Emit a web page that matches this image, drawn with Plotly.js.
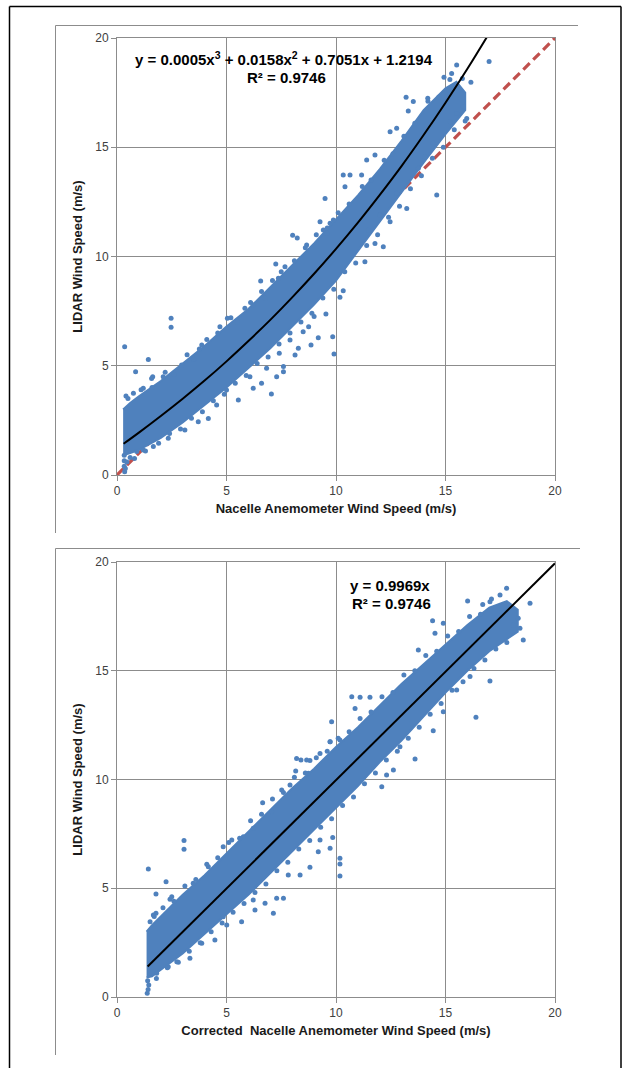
<!DOCTYPE html>
<html>
<head>
<meta charset="utf-8">
<script src="https://cdn.plot.ly/plotly-3.0.1.min.js"></script>
<style>html,body{margin:0;padding:0;background:#fff}#chart{width:624px;height:1068px}</style>
</head>
<body>
<div id="chart"></div>
<script>
// ---------------- DATA ----------------
var axisTicks = [0, 5, 10, 15, 20];

// Top chart: dense core of the cloud (upper / lower edges)
var topUpperX = [0.28, 0.6, 1, 2, 3, 4, 5, 6, 7, 8, 9, 10, 11, 12, 13, 14, 15, 15.5, 15.9];
var topUpperY = [3.0, 3.3, 3.6, 4.3, 5.1, 5.9, 6.8, 7.6, 8.6, 9.6, 10.6, 11.7, 12.8, 14.0, 15.3, 16.7, 17.7, 18.0, 17.5];
var topLowerX = [15.9, 15, 14, 13, 12, 11, 10, 9, 8, 7, 6, 5, 4, 3, 2, 1, 0.6, 0.28];
var topLowerY = [16.7, 15.6, 14.3, 12.95, 11.6, 10.2, 8.9, 7.8, 6.8, 5.8, 4.9, 4.0, 3.2, 2.4, 1.7, 1.15, 1.0, 0.9];

// Top chart: individual scattered points
var topPtsX = [0.35, 2.47, 2.47, 1.43, 0.85, 1.63, 0.41, 6.56, 8.02, 8.23, 7.25, 5.04, 3.76, 7.05, 9.85, 9.91, 8.86, 9.19, 9.54, 10.18, 10.33, 9.0, 8.5, 8.75, 7.9, 8.28, 7.41, 7.6, 6.83, 6.6, 6.07, 5.54, 5.0, 4.55, 4.17, 3.71, 3.1, 2.34, 1.66, 1.2, 0.35, 6.22, 7.29, 7.6, 8.13,
  2.95, 2.11, 1.58, 1.2, 0.75, 3.87, 4.7, 5.84, 6.22, 6.76, 7.37, 7.67, 8.66, 9.42, 9.73,
  16.99, 15.51, 15.28, 14.93, 16.16, 15.77, 13.2, 13.53, 13.3, 14.19, 12.77, 12.47, 11.78, 11.4, 10.33, 10.64, 11.17, 10.41, 9.5, 9.88, 9.27, 9.58, 14.6, 13.23, 12.77, 12.0, 12.47, 11.48, 11.32, 12.16, 11.78, 14.44, 14.06, 13.76, 15.51, 15.81, 15.97, 15.2,
  0.33, 0.33, 0.33, 0.38, 0.45, 0.6, 0.8, 0.9,
  0.5, 1.1, 1.6, 2.2, 2.6, 3.2, 3.5, 4.1, 4.6, 5.2, 5.5, 6.1, 6.6, 7.1, 7.5, 8.1, 8.6, 9.1, 9.6, 10.1, 10.6, 11.2, 11.6, 12.2, 12.6, 13.1, 13.6, 14.2, 14.7, 15.2,
  1.3, 1.9, 2.4, 2.9, 3.4, 3.9, 4.4, 4.9, 5.4, 5.9, 6.4, 6.9, 7.4, 7.9, 8.4, 8.9, 9.4, 9.9, 10.4, 10.9, 11.4, 11.9, 12.4, 12.9, 13.4, 13.9, 14.4, 14.9, 15.4, 15.9];
var topPtsY = [5.87, 7.17, 6.76, 5.29, 4.73, 4.5, 3.62, 8.88, 10.97, 10.85, 9.66, 7.17, 5.77, 3.71, 6.33, 5.54, 5.95, 6.28, 7.37, 8.13, 8.43, 7.25, 6.56, 6.79, 6.18, 5.8, 5.57, 4.96, 4.88, 4.2, 4.5, 3.43, 3.89, 3.2, 2.59, 2.44, 2.06, 1.68, 1.3, 1.14, 0.15, 3.97, 4.5, 4.73, 5.49,
  5.03, 4.5, 4.42, 3.97, 3.74, 5.95, 6.79, 7.63, 7.78, 8.09, 9.0, 9.53, 10.53, 11.21, 11.52,
  18.92, 18.76, 18.38, 18.2, 17.97, 18.15, 17.29, 17.09, 16.66, 17.24, 15.87, 15.71, 14.65, 14.42, 13.73, 13.73, 13.73, 13.19, 12.66, 11.67, 11.59, 11.06, 12.81, 12.2, 12.89, 11.9, 11.59, 11.21, 9.76, 10.45, 10.6, 15.18, 14.57, 14.04, 16.55, 16.86, 16.32, 16.17,
  0.4, 0.65, 0.9, 0.3, 0.6, 0.8, 0.75, 1.07,
  3.5, 3.9, 4.0, 4.7, 4.6, 5.5, 5.3, 6.2, 6.5, 7.2, 7.0, 7.9, 8.4, 8.9, 9.3, 9.8, 10.4, 11.0, 11.3, 12.0, 12.4, 13.2, 13.5, 14.4, 14.7, 15.5, 16.1, 17.1, 17.3, 18.1,
  1.1, 1.45, 1.9, 2.1, 2.6, 2.9, 3.4, 3.7, 4.2, 4.55, 5.1, 5.4, 6.0, 6.5, 7.0, 7.4, 8.1, 8.5, 9.3, 9.7, 10.5, 11.0, 11.8, 12.3, 13.1, 13.7, 14.5, 15.0, 15.8, 16.2];

// Top chart: polynomial trend line
var topFitX = [0.3, 1, 2, 3, 4, 5, 6, 7, 8, 9, 10, 11, 12, 13, 14, 15, 16, 16.9];
var topFitY = [1.43, 1.94, 2.70, 3.49, 4.32, 5.20, 6.13, 7.10, 8.13, 9.21, 10.35, 11.55, 12.82, 14.15, 15.56, 17.04, 18.59, 20.06];

// Top chart: 1:1 reference line
var identityX = [0, 20];
var identityY = [0, 20];

// Bottom chart: dense core of the cloud
var botUpperX = [1.35, 1.6, 2, 3, 4, 5, 6, 7, 8, 9, 10, 11, 12, 13, 14, 15, 16, 17, 17.8, 18.3];
var botUpperY = [3.0, 3.3, 3.7, 4.7, 5.6, 6.6, 7.6, 8.6, 9.6, 10.5, 11.5, 12.4, 13.4, 14.4, 15.3, 16.2, 17.1, 17.9, 18.2, 17.8];
var botLowerX = [18.3, 17, 16, 15, 14, 13, 12, 11, 10, 9, 8, 7, 6, 5, 4, 3, 2, 1.6, 1.35];
var botLowerY = [16.8, 15.9, 15.0, 14.0, 12.9, 11.8, 10.8, 9.7, 8.7, 7.7, 6.7, 5.7, 4.7, 3.8, 2.9, 2.0, 1.25, 0.95, 0.9];

// Bottom chart: individual scattered points
var botPtsX = [1.43, 3.06, 3.06, 2.24, 1.78, 2.42, 1.66, 6.65, 8.2, 8.4, 8.16, 8.81, 7.14, 10.18, 10.18, 10.18, 9.73, 9.85, 9.27, 9.19, 8.81, 8.36, 7.82, 7.29, 7.6, 6.76, 6.22, 6.3, 5.69, 5.01, 4.85, 4.47, 3.87, 3.33, 2.73, 2.34, 1.81, 1.38, 1.45, 1.42, 1.4,
  1.51, 1.78, 2.5, 3.48, 4.17, 4.85, 5.24, 5.77, 6.22, 7.06, 7.52, 7.9, 8.74, 9.27, 9.73,
  17.79, 17.49, 18.86, 16.01, 16.7, 17.03, 14.41, 14.9, 14.52, 13.76, 10.72, 11.1, 11.55, 10.87, 9.8, 10.18, 9.73, 8.66, 16.39, 17.03, 14.9, 14.44, 13.61, 12.31, 12.62, 12.09, 12.92, 15.51, 16.12, 18.4, 18.55, 18.1, 18.32,
  1.7, 2.1, 2.6, 3.1, 3.6, 4.1, 4.6, 5.1, 5.6, 6.1, 6.6, 7.1, 7.6, 8.1, 8.6, 9.1, 9.6, 10.1, 10.6, 11.1, 11.6, 12.1, 12.6, 13.1, 13.6, 14.1, 14.6, 15.1, 15.6, 16.1, 16.6, 17.1,
  1.8, 2.3, 2.8, 3.3, 3.8, 4.3, 4.8, 5.3, 5.8, 6.3, 6.8, 7.3, 7.8, 8.3, 8.8, 9.3, 9.8, 10.3, 10.8, 11.3, 11.8, 12.3, 12.8, 13.3, 13.8, 14.3, 14.8, 15.3, 15.8, 16.3, 16.8, 17.3, 17.8];
var botPtsY = [5.89, 7.19, 6.79, 5.3, 4.74, 4.49, 3.77, 8.93, 10.97, 10.9, 10.39, 10.87, 3.85, 6.38, 6.11, 5.56, 6.84, 7.33, 7.22, 6.68, 5.96, 5.61, 5.61, 4.54, 4.54, 4.31, 4.46, 4.0, 3.46, 3.31, 3.69, 2.62, 2.47, 1.78, 1.62, 1.39, 1.09, 0.17, 0.55, 0.35, 0.75,
  3.46, 3.85, 4.61, 5.23, 5.99, 6.91, 7.22, 7.37, 7.76, 8.52, 9.52, 9.75, 10.29, 11.2, 11.74,
  18.79, 18.48, 18.1, 18.21, 18.05, 18.17, 17.3, 17.18, 16.72, 15.95, 13.81, 13.78, 13.78, 13.27, 12.66, 11.82, 11.74, 10.9, 12.86, 14.53, 13.12, 12.24, 10.94, 10.21, 10.44, 9.67, 11.51, 14.11, 14.73, 16.95, 16.41, 17.1, 17.41,
  3.7, 4.1, 4.4, 5.1, 5.4, 6.1, 6.4, 7.1, 7.3, 8.1, 8.4, 9.1, 9.4, 10.1, 10.3, 11.0, 11.3, 11.9, 12.2, 12.8, 13.1, 13.8, 14.0, 14.8, 15.0, 15.7, 15.9, 16.6, 16.8, 17.5, 17.6, 18.3,
  0.85, 1.35, 1.6, 2.1, 2.5, 3.0, 3.4, 3.9, 4.3, 4.8, 5.2, 5.8, 6.2, 6.8, 7.2, 7.8, 8.2, 8.8, 9.2, 9.8, 10.3, 10.9, 11.3, 11.9, 12.4, 13.0, 13.5, 14.1, 14.5, 15.1, 15.5, 16.0, 16.3];

// Bottom chart: linear trend line
var botFitX = [1.4, 20];
var botFitY = [1.40, 19.94];

// Text
var topEquation = 'y = 0.0005x<sup>3</sup> + 0.0158x<sup>2</sup> + 0.7051x + 1.2194';
var botEquation = 'y = 0.9969x';
var rSquared = 'R² = 0.9746';
var topXTitle = 'Nacelle Anemometer Wind Speed (m/s)';
var botXTitle = 'Corrected  Nacelle Anemometer Wind Speed (m/s)';
var yTitle = 'LIDAR Wind Speed (m/s)';

// ---------------- CHART ----------------
var W = 624, H = 1068;
function px(v) { return v / W; }
function py(v) { return 1 - v / H; }

var BLUE = '#4F81BD';
var FONT = 'Liberation Sans, Arial, sans-serif';

function band(ux, uy, lx, ly, xa, ya) {
  return {
    x: ux.concat(lx), y: uy.concat(ly), xaxis: xa, yaxis: ya,
    type: 'scatter', mode: 'lines', fill: 'toself', fillcolor: BLUE,
    line: { color: BLUE, width: 2 }, hoverinfo: 'skip'
  };
}
function pts(x, y, xa, ya) {
  return { x: x, y: y, xaxis: xa, yaxis: ya, type: 'scatter', mode: 'markers',
    marker: { color: BLUE, size: 5, line: { width: 0 } } };
}

var traces = [
  { x: identityX, y: identityY, xaxis: 'x', yaxis: 'y', type: 'scatter', mode: 'lines',
    line: { color: '#C0504D', width: 3.2, dash: '9px,5px' } },
  band(topUpperX, topUpperY, topLowerX, topLowerY, 'x', 'y'),
  pts(topPtsX, topPtsY, 'x', 'y'),
  { x: topFitX, y: topFitY, xaxis: 'x', yaxis: 'y', type: 'scatter', mode: 'lines',
    line: { color: '#000000', width: 2, shape: 'spline' } },
  band(botUpperX, botUpperY, botLowerX, botLowerY, 'x2', 'y2'),
  pts(botPtsX, botPtsY, 'x2', 'y2'),
  { x: botFitX, y: botFitY, xaxis: 'x2', yaxis: 'y2', type: 'scatter', mode: 'lines',
    line: { color: '#000000', width: 2 } }
];

var GRID = '#8c8c8c';
function axis(domain, anchor, title, isY) {
  var a = {
    domain: domain, anchor: anchor, range: [0, 20], tickvals: axisTicks,
    showgrid: true, gridcolor: GRID, gridwidth: 1,
    showline: true, linecolor: GRID, linewidth: 1, mirror: true,
    ticks: 'outside', ticklen: 5, tickcolor: GRID, tickwidth: 1,
    tickfont: { family: FONT, size: 12, color: '#404040' },
    zeroline: false, fixedrange: true, automargin: false
  };
  if (title) a.title = { text: '<b>' + title + '</b>', font: { family: FONT, size: 13, color: '#1a1a1a' }, standoff: isY ? 9 : 6 };
  return a;
}

var xDom = [px(117), px(555)];
var layout = {
  width: W, height: H, margin: { l: 0, r: 0, t: 0, b: 0 },
  paper_bgcolor: '#ffffff', plot_bgcolor: '#ffffff', showlegend: false,
  xaxis: axis(xDom, 'y', topXTitle, false),
  yaxis: axis([py(475), py(38)], 'x', yTitle, true),
  xaxis2: axis(xDom, 'y2', botXTitle, false),
  yaxis2: axis([py(997), py(562)], 'x2', yTitle, true),
  annotations: [
    { xref: 'paper', yref: 'paper', x: px(284), y: py(58), text: '<b>' + topEquation + '</b>', showarrow: false,
      xanchor: 'center', yanchor: 'middle', font: { family: FONT, size: 15, color: '#000' } },
    { xref: 'paper', yref: 'paper', x: px(286), y: py(77), text: '<b>' + rSquared + '</b>', showarrow: false,
      xanchor: 'center', yanchor: 'middle', font: { family: FONT, size: 15, color: '#000' } },
    { xref: 'paper', yref: 'paper', x: px(390), y: py(585), text: '<b>' + botEquation + '</b>', showarrow: false,
      xanchor: 'center', yanchor: 'middle', font: { family: FONT, size: 15, color: '#000' } },
    { xref: 'paper', yref: 'paper', x: px(391), y: py(603), text: '<b>' + rSquared + '</b>', showarrow: false,
      xanchor: 'center', yanchor: 'middle', font: { family: FONT, size: 15, color: '#000' } }
  ],
  shapes: [
    { type: 'line', xref: 'paper', yref: 'paper', x0: px(9.5), y0: py(6.5), x1: px(621), y1: py(6.5), line: { color: '#000', width: 1.5 } },
    { type: 'line', xref: 'paper', yref: 'paper', x0: px(9.5), y0: py(6.5), x1: px(9.5), y1: py(1068), line: { color: '#000', width: 1.5 } },
    { type: 'line', xref: 'paper', yref: 'paper', x0: px(621), y0: py(6.5), x1: px(621), y1: py(1068), line: { color: '#000', width: 1.5 } },
    { type: 'line', xref: 'paper', yref: 'paper', x0: px(55.5), y0: py(25.5), x1: px(578), y1: py(25.5), line: { color: GRID, width: 1 } },
    { type: 'line', xref: 'paper', yref: 'paper', x0: px(55.5), y0: py(25.5), x1: px(55.5), y1: py(533), line: { color: GRID, width: 1 } },
    { type: 'line', xref: 'paper', yref: 'paper', x0: px(55.5), y0: py(548.5), x1: px(580), y1: py(548.5), line: { color: GRID, width: 1 } },
    { type: 'line', xref: 'paper', yref: 'paper', x0: px(55.5), y0: py(548.5), x1: px(55.5), y1: py(1055), line: { color: GRID, width: 1 } }
  ]
};

Plotly.newPlot('chart', traces, layout, { staticPlot: true, displayModeBar: false });
</script>
</body>
</html>
